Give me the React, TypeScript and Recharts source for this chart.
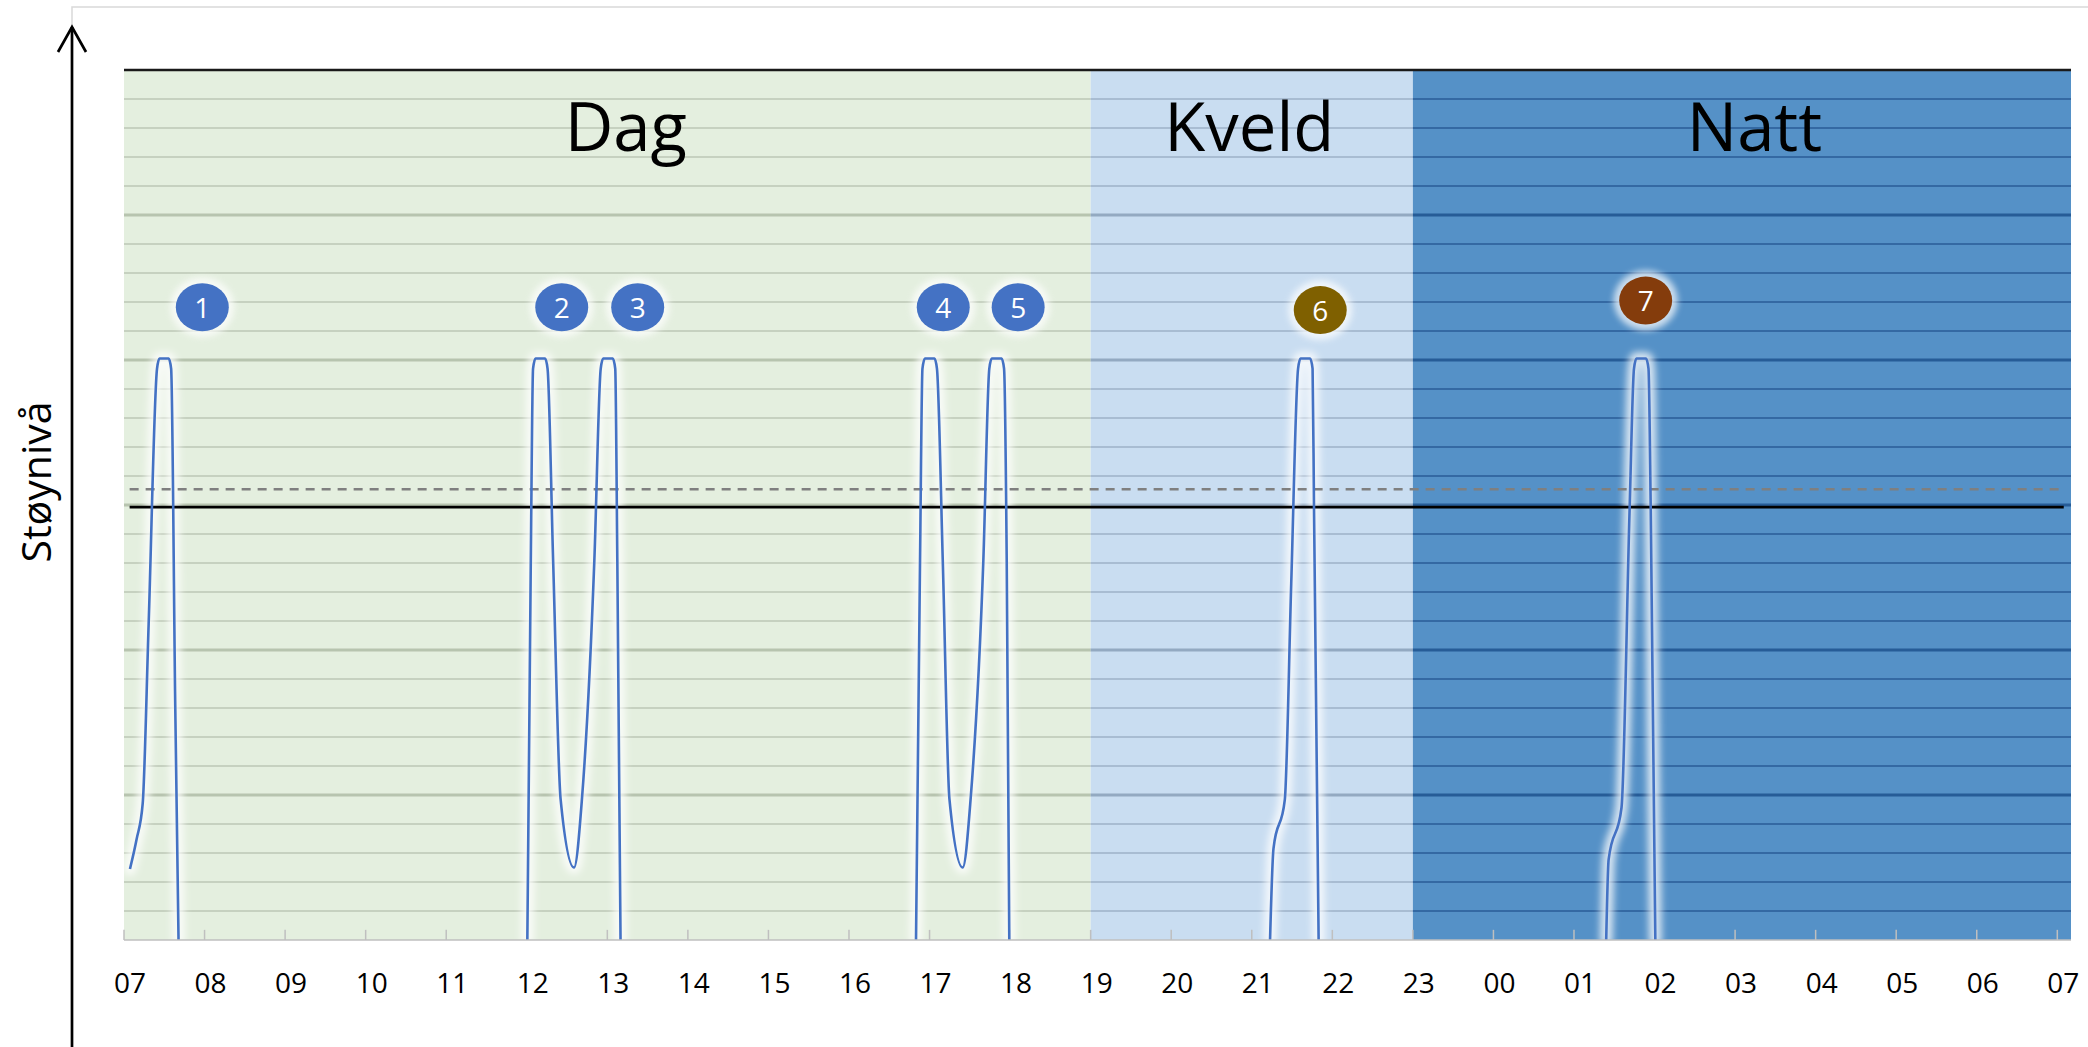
import React from 'react';
import { LineChart, Line, XAxis, YAxis, ReferenceArea, ReferenceLine, ReferenceDot } from 'recharts';

// ---------- data ----------
const hourTicks = [0, 1, 2, 3, 4, 5, 6, 7, 8, 9, 10, 11, 12, 13, 14, 15, 16, 17, 18, 19, 20, 21, 22, 23, 24];
const hourLabels = ['07', '08', '09', '10', '11', '12', '13', '14', '15', '16', '17', '18', '19', '20', '21', '22', '23', '00', '01', '02', '03', '04', '05', '06', '07'];
const xMax = 24.17;

const periodNames = ['Dag', 'Kveld', 'Natt'];
const periodStart = [0, 12, 16];
const periodEnd = [12, 16, 24.17];
const periodLabelHour = [6.23, 13.97, 20.24];
const periodLabelLevel = 27.2;

const minorLevels = [1, 2, 3, 4, 6, 7, 8, 9, 11, 12, 13, 14, 16, 17, 18, 19, 21, 22, 23, 24, 26, 27, 28, 29];
const majorLevels = [5, 10, 15, 20, 25];
const topLevel = 30;
const limitLevel = 14.93;
const dashedLevel = 15.54;
const limitStart = 0.07;
const limitEnd = 24.08;

const event1: [number, number][] = [
  [0.074, 2.45], [0.157, 3.48], [0.232, 4.7], [0.306, 10.9], [0.41, 19.7], [0.44, 20.05],
  [0.555, 20.05], [0.585, 19.7], [0.636, 8.1], [0.677, 0],
];
const event2and3: [number, number][] = [
  [5.007, 0], [5.05, 13.1], [5.078, 19.7], [5.108, 20.05], [5.228, 20.05], [5.258, 19.7],
  [5.327, 13.1], [5.42, 4.86], [5.587, 2.5], [5.686, 4.9], [5.839, 13.1], [5.918, 19.7],
  [5.948, 20.05], [6.068, 20.05], [6.098, 19.7], [6.124, 13.1], [6.164, 0],
];
const event4and5: [number, number][] = [
  [9.832, 0], [9.882, 13.1], [9.912, 19.7], [9.942, 20.05], [10.062, 20.05], [10.092, 19.7],
  [10.164, 13.1], [10.247, 4.86], [10.412, 2.5], [10.511, 4.9], [10.668, 13.1], [10.742, 19.7],
  [10.772, 20.05], [10.895, 20.05], [10.925, 19.7], [10.958, 13.1], [10.99, 0],
];
const event6: [number, number][] = [
  [14.227, 0], [14.27, 3.16], [14.41, 4.83], [14.49, 12.3], [14.575, 19.7], [14.605, 20.05],
  [14.725, 20.05], [14.755, 19.7], [14.773, 14.8], [14.83, 0],
];
const event7: [number, number][] = [
  [18.4, 0], [18.43, 2.77], [18.59, 4.56], [18.69, 14.8], [18.745, 19.7], [18.775, 20.05],
  [18.895, 20.05], [18.925, 19.7], [18.953, 14.8], [19.01, 0],
];

const badgeNumbers = ['1', '2', '3', '4', '5', '6', '7'];
const badgeHours = [0.972, 5.434, 6.377, 10.17, 11.1, 14.85, 18.89];
const badgeLevels = [21.82, 21.82, 21.82, 21.82, 21.82, 21.72, 22.05];

// ---------- styles ----------
const FONT = "'Open Sans', 'Noto Sans', sans-serif";
const bandFill = ['#e4efdf', '#c9ddf1', '#5591c7'];
const bandMinor = ['#c6d1c0', '#a8bcd2', '#3469a3'];
const bandMajor = ['#b7c4af', '#93a9c1', '#265c97'];
const badgeFill = ['#4472c4', '#4472c4', '#4472c4', '#4472c4', '#4472c4', '#7f6000', '#843c0c'];
const lineColor = '#4472c4';

const toRows = (ev: [number, number][]) => ev.map(([t, v]) => ({ t, v }));
const eventSeries = [event1, event2and3, event4and5, event6, event7].map(toRows);

const XTick = (props: any) => {
  const { x, y, payload } = props;
  const idx = hourTicks.indexOf(payload.value);
  return (
    <text x={x + 6} y={y + 53} textAnchor="middle" fontSize={28} fontFamily={FONT} fill="#000">
      {hourLabels[idx]}
    </text>
  );
};

const Badge = (props: any) => {
  const { cx, cy, idx } = props;
  if (cx == null || cy == null) return <g />;
  return (
    <g>
      <ellipse cx={cx} cy={cy} rx={32} ry={30} fill="#ffffff" opacity={0.7} filter="url(#badgeGlow)" />
      <ellipse cx={cx} cy={cy} rx={26.5} ry={24} fill={badgeFill[idx]} />
      <text x={cx} y={cy + 10.5} textAnchor="middle" fontSize={28} fontFamily={FONT} fill="#ffffff">
        {badgeNumbers[idx]}
      </text>
    </g>
  );
};

const PeriodLabel = (props: any) => {
  const { cx, cy, idx } = props;
  if (cx == null || cy == null) return <g />;
  return (
    <text x={cx} y={cy} textAnchor="middle" fontSize={67} fontFamily={FONT} fill="#000">
      {periodNames[idx]}
    </text>
  );
};

export default function App() {
  return (
    <div style={{ position: 'absolute', left: 0, top: 0, width: 2088, height: 1047, background: '#fff' }}>
      <LineChart width={2088} height={1047} margin={{ top: 70, right: 17, bottom: 47, left: 124 }}>
        <defs>
          <filter id="lineGlow" x="-200%" y="-20%" width="500%" height="140%">
            <feGaussianBlur stdDeviation="3.5" />
          </filter>
          <filter id="badgeGlow" x="-50%" y="-50%" width="200%" height="200%">
            <feGaussianBlur stdDeviation="3" />
          </filter>
        </defs>
        <XAxis
          type="number"
          dataKey="t"
          domain={[0, xMax]}
          ticks={hourTicks}
          interval={0}
          allowDataOverflow
          tickLine={false}
          tickSize={0}
          tickMargin={0}
          tick={<XTick />}
          axisLine={{ stroke: '#bfbfbf', strokeWidth: 1.5 }}
          height={60}
        />
        <YAxis type="number" domain={[0, 30]} hide />

        {periodNames.map((n, i) => (
          <ReferenceArea key={'band' + n} x1={periodStart[i]} x2={periodEnd[i]} y1={0} y2={30} fill={bandFill[i]} fillOpacity={1} stroke="none" />
        ))}
        {periodNames.map((n, i) =>
          minorLevels.map((lv) => (
            <ReferenceLine
              key={'mi' + n + lv}
              segment={[{ x: periodStart[i], y: lv }, { x: periodEnd[i], y: lv }]}
              stroke={bandMinor[i]}
              strokeWidth={2}
            />
          ))
        )}
        {periodNames.map((n, i) =>
          majorLevels.map((lv) => (
            <ReferenceLine
              key={'ma' + n + lv}
              segment={[{ x: periodStart[i], y: lv }, { x: periodEnd[i], y: lv }]}
              stroke={bandMajor[i]}
              strokeWidth={3}
            />
          ))
        )}
        <ReferenceLine y={topLevel} stroke="#1a1a1a" strokeWidth={2.5} />
        {hourTicks.map((h) => (
          <ReferenceLine key={'tk' + h} segment={[{ x: h, y: 0 }, { x: h, y: 0.35 }]} stroke="#bfbfbf" strokeWidth={1.5} />
        ))}

        {eventSeries.map((d, i) => (
          <Line
            key={'glow' + i}
            data={d}
            dataKey="v"
            type="monotone"
            stroke="#ffffff"
            strokeOpacity={0.75}
            strokeWidth={13}
            filter="url(#lineGlow)"
            dot={false}
            activeDot={false}
            isAnimationActive={false}
            strokeLinecap="round"
            strokeLinejoin="round"
          />
        ))}

        <ReferenceLine
          segment={[{ x: limitStart, y: dashedLevel }, { x: limitEnd, y: dashedLevel }]}
          stroke="#7f7f7f"
          strokeWidth={2.5}
          strokeDasharray="9 7"
        />
        <ReferenceLine
          segment={[{ x: limitStart, y: limitLevel }, { x: limitEnd, y: limitLevel }]}
          stroke="#000000"
          strokeWidth={2.8}
        />

        {eventSeries.map((d, i) => (
          <Line
            key={'ev' + i}
            data={d}
            dataKey="v"
            type="monotone"
            stroke={lineColor}
            strokeWidth={2.6}
            dot={false}
            activeDot={false}
            isAnimationActive={false}
            strokeLinejoin="round"
          />
        ))}

        {badgeNumbers.map((b, i) => (
          <ReferenceDot key={'bd' + b} x={badgeHours[i]} y={badgeLevels[i]} r={26} shape={(p: any) => <Badge {...p} idx={i} />} />
        ))}
        {periodNames.map((n, i) => (
          <ReferenceDot key={'pl' + n} x={periodLabelHour[i]} y={periodLabelLevel} r={1} shape={(p: any) => <PeriodLabel {...p} idx={i} />} />
        ))}
      </LineChart>

      <svg width={2088} height={1047} style={{ position: 'absolute', left: 0, top: 0, pointerEvents: 'none' }}>
        <polyline points="72,26 72,7 2088,7" fill="none" stroke="#d9d9d9" strokeWidth={1.5} />
        <line x1={72} y1={27} x2={72} y2={1047} stroke="#000" strokeWidth={2.7} />
        <polyline points="58,52 72,27 86,52" fill="none" stroke="#000" strokeWidth={2.7} />
        <text transform="translate(51,482) rotate(-90)" textAnchor="middle" fontSize={41} fontFamily={FONT} fill="#000">
          Støynivå
        </text>
      </svg>
    </div>
  );
}
